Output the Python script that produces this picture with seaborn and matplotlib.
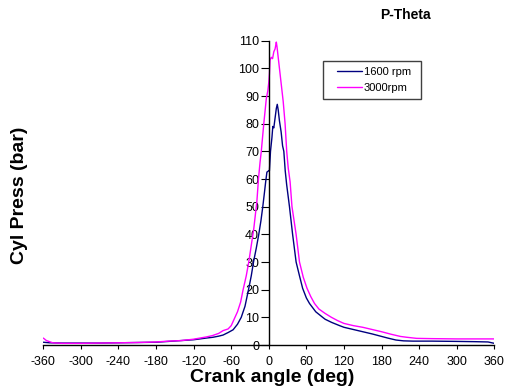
import matplotlib
matplotlib.use("Agg")
import matplotlib.pyplot as plt
from matplotlib.patches import Rectangle
import seaborn as sns
import pandas as pd

# ---- data ----
angle_1600 = [-360, -350, -330, -300, -270, -240, -210, -180, -160, -140, -120, -110, -100,
              -89, -80, -73, -65, -57, -50, -44, -38, -32.4, -28, -24.4, -20, -16, -12.5,
              -9.6, -7, -5, -3, 0, 1, 2.7, 5, 6.4, 8, 10, 12, 13.5, 15, 17, 19.7, 22, 24,
              26.2, 28.5, 33, 38, 43.6, 49, 54, 60, 65, 75, 86, 90, 100, 113, 120, 135, 150,
              165, 180, 190, 203, 215, 230, 260, 300, 330, 350, 360]
press_1600 = [1.0, 0.8, 0.7, 0.7, 0.7, 0.8, 0.9, 1.0, 1.3, 1.6, 1.9, 2.2, 2.5,
              2.8, 3.2, 3.6, 4.5, 5.5, 7.5, 10, 14, 20, 25, 30, 35, 40, 45,
              50, 55, 59, 62.5, 63, 63, 70, 75, 79, 78.5, 82, 85.5, 87, 85, 81, 77, 72, 70,
              63, 58, 50, 40, 30, 25, 20.5, 17, 15, 12, 10, 9.3, 8.2, 7.0, 6.4, 5.6, 4.8,
              4.0, 3.1, 2.5, 1.8, 1.5, 1.4, 1.4, 1.3, 1.2, 1.1, 0.6]

angle_3000 = [-360, -355, -345, -330, -300, -270, -240, -210, -180, -160, -140, -120, -110,
              -100, -90, -80, -73, -65, -60, -55, -50, -45, -41, -36, -32, -28, -24, -21,
              -19, -16.5, -14, -12, -8, -4, -1.5, 0, 1, 2, 4, 6, 8, 10, 12, 13, 15, 17, 19,
              21, 23, 26, 28.6, 31, 34, 37, 43.6, 49, 55, 61, 67, 73, 80, 90, 100, 110, 120,
              135, 150, 165, 180, 195, 210, 220, 236, 260, 300, 330, 360]
press_3000 = [2.5, 1.6, 0.8, 0.6, 0.6, 0.7, 0.8, 0.9, 1.1, 1.4, 1.6, 2.1, 2.5,
              2.9, 3.4, 4.2, 5.2, 5.8, 7.0, 9.5, 12, 15.5, 20, 25, 30, 36, 42, 48,
              52, 60, 66, 70, 80, 89, 92, 95, 98, 103, 104, 103.5, 106, 107, 109.5, 108, 104, 100, 96,
              92, 88, 80, 70, 64, 59, 50, 40, 30, 24.5, 20.5, 17.5, 15, 13, 11.4, 10, 8.8, 7.8,
              7.0, 6.4, 5.6, 4.8, 3.9, 3.1, 2.8, 2.4, 2.3, 2.2, 2.2, 2.2]

series_names = ["1600 rpm", "3000rpm"]
series_colors = ["#000080", "#FF00FF"]
x_ticks = list(range(-360, 361, 60))
y_ticks = list(range(0, 111, 10))

df = pd.concat([
    pd.DataFrame({"angle": angle_1600, "press": press_1600, "series": series_names[0]}),
    pd.DataFrame({"angle": angle_3000, "press": press_3000, "series": series_names[1]}),
], ignore_index=True)

sns.set_theme(style="white")
plt.rcParams["font.family"] = ["Liberation Sans", "DejaVu Sans"]
plt.rcParams["axes.unicode_minus"] = False
plt.rcParams["text.color"] = "black"
plt.rcParams["axes.labelcolor"] = "black"
plt.rcParams["xtick.color"] = "black"
plt.rcParams["ytick.color"] = "black"

fig = plt.figure(figsize=(5.05, 3.92), dpi=100)
ax = fig.add_axes([43.3 / 505, 47 / 392, 451 / 505, 304.3 / 392])

sns.lineplot(data=df, x="angle", y="press", hue="series", hue_order=series_names,
             palette=series_colors, estimator=None, sort=True, linewidth=1.0, ax=ax)

ax.set_xlim(-360, 360)
ax.set_ylim(0, 110)
ax.set_xticks(x_ticks)
ax.set_yticks(y_ticks)
ax.set_axisbelow(True)

for s in ["top", "right"]:
    ax.spines[s].set_visible(False)
ax.spines["left"].set_position(("data", 0))
for s in ["left", "bottom"]:
    ax.spines[s].set_color("black")
    ax.spines[s].set_linewidth(1.0)

ax.tick_params(axis="x", direction="out", length=3, width=0.8, pad=5, labelsize=9, bottom=True)
ax.tick_params(axis="y", direction="out", length=6, width=0.8, pad=1, labelsize=9, left=True)

ax.set_xlabel("Crank angle (deg)", fontsize=14, fontweight="bold", va="center")
ax.xaxis.set_label_coords((272 - 43.3) / 451, (345 - 378) / 304.3)
ax.set_ylabel("Cyl Press (bar)", fontsize=14, fontweight="bold", va="center")
ax.yaxis.set_label_coords((20 - 43.3) / 451, (345 - 195) / 304.3)

fig.text(405 / 505, 1 - 15 / 392, "P-Theta", ha="center", va="center",
         fontsize=10, fontweight="bold")

sns.move_legend(ax, "center left", bbox_to_anchor=(337 / 505, 1 - 79.8 / 392),
                bbox_transform=fig.transFigure, frameon=False, title=None,
                fontsize=8, handlelength=2.25, handletextpad=0.15,
                labelspacing=0.5, borderpad=0, borderaxespad=0)

fig.patches.append(Rectangle((323 / 505, 1 - 99 / 392), 98 / 505, 38 / 392,
                             transform=fig.transFigure, fill=False,
                             edgecolor="#404040", linewidth=1.0))

fig.savefig("out.png", dpi=100)
